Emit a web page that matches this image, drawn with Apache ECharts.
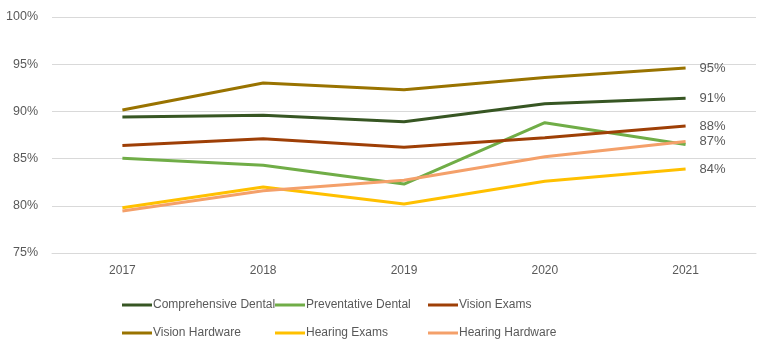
<!DOCTYPE html>
<html>
<head>
<meta charset="utf-8">
<script src="https://cdn.jsdelivr.net/npm/echarts@6/dist/echarts.min.js"></script>
<style>
  html, body { margin: 0; padding: 0; background: #fff; }
  #main { width: 772px; height: 354px; }
</style>
</head>
<body>
<div id="main"></div>
<script>
var years = ['2017', '2018', '2019', '2020', '2021'];
var yTicks = [75, 80, 85, 90, 95, 100];

var compDental = [89.4, 89.6, 88.9, 90.8, 91.4];
var prevDental = [85.05, 84.3, 82.3, 88.8, 86.5];
var visionExams = [86.4, 87.1, 86.2, 87.2, 88.45];
var visionHardware = [90.15, 93.0, 92.3, 93.6, 94.6];
var hearingExams = [79.8, 82.0, 80.2, 82.6, 83.9];
var hearingHardware = [79.45, 81.6, 82.7, 85.2, 86.8];

var names = ['Comprehensive Dental', 'Preventative Dental', 'Vision Exams',
  'Vision Hardware', 'Hearing Exams', 'Hearing Hardware'];
var colors = ['#375623', '#70ad47', '#9e3f06', '#997300', '#ffc000', '#f4a06a'];
var values = [compDental, prevDental, visionExams, visionHardware, hearingExams, hearingHardware];
// only these series carry the end label
var endLabel = [true, false, true, true, true, true];

var font = 'Liberation Sans';
var txt = '#595959';

var chart = echarts.init(document.getElementById('main'));

var series = names.map(function(n, i) {
  return {
    name: n,
    type: 'line',
    data: values[i],
    symbol: 'none',
    lineStyle: { width: 3, color: colors[i] },
    itemStyle: { color: colors[i] },
    endLabel: {
      show: endLabel[i],
      color: txt,
      fontFamily: font,
      fontSize: 13,
      distance: 14,
      formatter: function(p) { return Math.round(p.value) + '%'; }
    },
    animation: false
  };
});

// legend: fixed 3 columns x 2 rows
var colX = [122, 275, 428];
var rowY = [299, 327];
var legends = names.map(function(n, i) {
  return {
    data: [n],
    left: colX[i % 3],
    top: rowY[Math.floor(i / 3)],
    icon: 'rect',
    itemWidth: 30,
    itemHeight: 3,
    itemGap: 0,
    padding: 0,
    textStyle: { color: txt, fontFamily: font, fontSize: 12, padding: [0, 0, 0, -4] },
    selectedMode: false
  };
});

chart.setOption({
  animation: false,
  grid: { left: 52, right: 16, top: 17, bottom: 101 },
  legend: legends,
  xAxis: {
    type: 'category',
    data: years,
    boundaryGap: true,
    axisLine: { lineStyle: { color: '#d9d9d9' } },
    axisTick: { show: false },
    axisLabel: { color: txt, fontFamily: font, fontSize: 12, margin: 12 }
  },
  yAxis: {
    type: 'value',
    min: yTicks[0],
    max: yTicks[yTicks.length - 1],
    interval: 5,
    axisLine: { show: false },
    axisTick: { show: false },
    splitLine: { lineStyle: { color: '#d9d9d9', width: 1 } },
    axisLabel: { color: txt, fontFamily: font, fontSize: 12.5, margin: 14,
      formatter: function(v) { return v + '%'; } }
  },
  series: series
});
</script>
</body>
</html>
